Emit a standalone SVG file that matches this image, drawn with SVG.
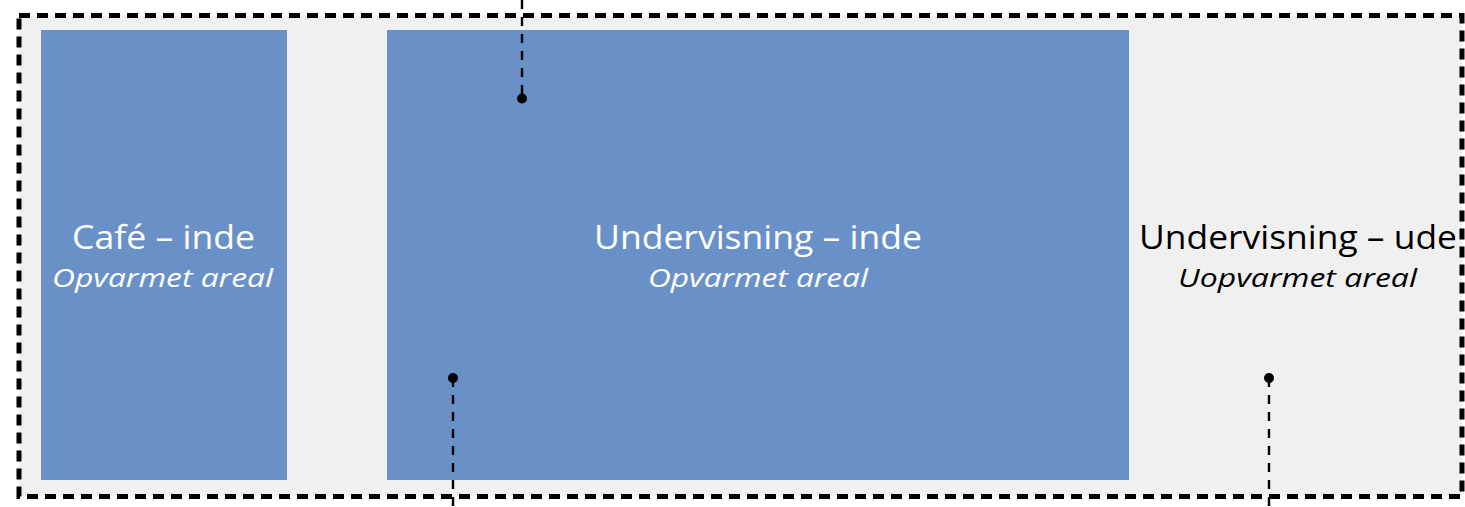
<svg xmlns="http://www.w3.org/2000/svg" width="1465" height="507" viewBox="0 0 1465 507">
<style>
.box{fill:#6a91c7}
.t{font-family:"Open Sans","Liberation Sans",sans-serif;font-size:32px;text-anchor:middle}
.s{font-family:"Open Sans","Liberation Sans",sans-serif;font-size:26px;font-style:italic;text-anchor:middle}
.w{fill:#ffffff}
.k{fill:#000000}
.lead{stroke:#000;stroke-width:2.4;stroke-dasharray:9 8;fill:none}
</style>
<rect width="1465" height="507" fill="#ffffff"/>
<rect id="frame" x="19" y="15.5" width="1443" height="481" fill="#f0f0f0" stroke="#000" stroke-width="5" stroke-dasharray="11 7"/>
<g id="cafe">
<rect class="box" x="41" y="30" width="246" height="450"/>
<text class="t w" x="163.5" y="249" textLength="183" lengthAdjust="spacingAndGlyphs">Café – inde</text>
<text class="s w" x="162.5" y="287" textLength="221" lengthAdjust="spacingAndGlyphs">Opvarmet areal</text>
</g>
<g id="undervisning-inde">
<rect class="box" x="387" y="30" width="742" height="450"/>
<text class="t w" x="758" y="249" textLength="328" lengthAdjust="spacingAndGlyphs">Undervisning – inde</text>
<text class="s w" x="758" y="287" textLength="220" lengthAdjust="spacingAndGlyphs">Opvarmet areal</text>
</g>
<g id="undervisning-ude">
<text class="t k" x="1298" y="249" textLength="318" lengthAdjust="spacingAndGlyphs">Undervisning – ude</text>
<text class="s k" x="1297.5" y="287" textLength="239" lengthAdjust="spacingAndGlyphs">Uopvarmet areal</text>
</g>
<g id="connectors">
<line class="lead" x1="522" y1="0" x2="522" y2="98"/>
<circle cx="522" cy="98.5" r="5"/>
<line class="lead" x1="453" y1="378" x2="453" y2="507"/>
<circle cx="453" cy="378" r="5"/>
<line class="lead" x1="1269" y1="378" x2="1269" y2="507"/>
<circle cx="1269" cy="378" r="5"/>
</g>
</svg>
